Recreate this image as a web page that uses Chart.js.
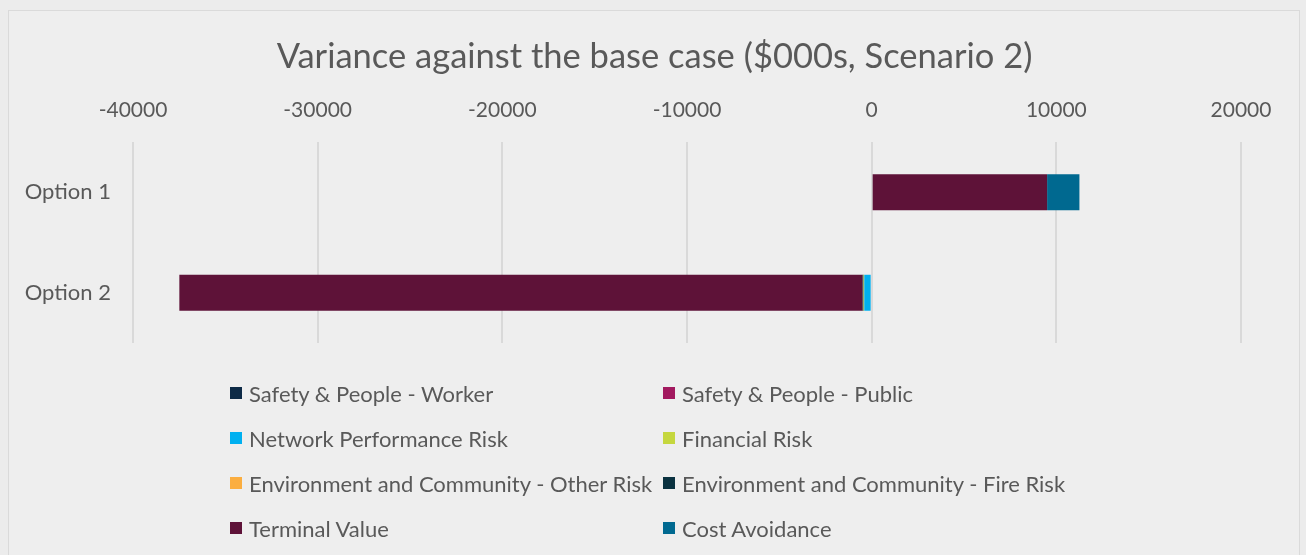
<!DOCTYPE html>
<html>
<head>
<meta charset="utf-8">
<script src="https://cdn.jsdelivr.net/npm/chart.js@4"></script>
<style>
  html, body { margin: 0; padding: 0; background: #ececec; width: 1306px; height: 555px; overflow: hidden; }
  #frame { position: absolute; left: 8px; top: 10px; width: 1290px; height: 560px; border: 1px solid #dadada; background: #eeeeee; }
  #wrap { position: absolute; left: 0; top: 0; width: 1306px; height: 555px; }
  #title { position: absolute; left: 0; top: 34px; width: 1309px; text-align: center; font-family: Lato, sans-serif; font-size: 34.5px; line-height: 42px; color: #595959; white-space: nowrap; }
  #legend { position: absolute; left: 230px; top: 377px; display: grid; grid-template-columns: 433px 433px; grid-auto-rows: 45px; font-family: Lato, sans-serif; font-size: 22px; color: #595959; }
  .item { display: flex; align-items: center; white-space: nowrap; height: 32px; }
  .box { width: 12px; height: 12px; margin-right: 7px; flex: none; }
</style>
</head>
<body>
<div id="frame"></div>
<div id="wrap"><canvas id="c" width="1306" height="555"></canvas></div>
<div id="title"></div>
<div id="legend"></div>
<script>
const chartTitle = 'Variance against the base case ($000s, Scenario 2)';
const categories = ["Option 1", "Option 2"];
const seriesNames = [
  "Safety & People - Worker",
  "Safety & People - Public",
  "Network Performance Risk",
  "Financial Risk",
  "Environment and Community - Other Risk",
  "Environment and Community - Fire Risk",
  "Terminal Value",
  "Cost Avoidance"
];
const seriesColors = ["#0d2a46", "#a2195f", "#00b0f0", "#c5d73e", "#fbae40", "#0a3240", "#5e1238", "#006990"];
const safetyWorker = [0, 0];
const safetyPublic = [0, 0];
const networkPerformance = [0, -400];
const financialRisk = [0, -40];
const envOther = [0, 0];
const envFire = [0, -50];
const terminalValue = [9500, -37000];
const costAvoidance = [1750, 0];
const seriesValues = [safetyWorker, safetyPublic, networkPerformance, financialRisk, envOther, envFire, terminalValue, costAvoidance];
const xMin = -40000, xMax = 20000, xStep = 10000;

document.getElementById('title').textContent = chartTitle;

const datasets = seriesNames.map((n, i) => ({
  label: n,
  data: seriesValues[i],
  backgroundColor: seriesColors[i],
  borderWidth: 0,
  barPercentage: 0.716,
  categoryPercentage: 0.5
}));

new Chart(document.getElementById('c'), {
  type: 'bar',
  data: { labels: categories, datasets },
  options: {
    indexAxis: 'y',
    responsive: false,
    animation: false,
    layout: { padding: { left: 20, right: 65, top: 87, bottom: 212 } },
    plugins: {
      legend: { display: false },
      tooltip: { enabled: false },
      title: { display: false }
    },
    scales: {
      x: {
        position: 'top',
        stacked: true,
        min: xMin, max: xMax,
        ticks: { stepSize: xStep, color: '#595959', font: { family: 'Lato', size: 21 }, padding: 19, maxRotation: 0,
                 callback: v => String(v) },
        grid: { color: '#d9d9d9', lineWidth: 2, drawTicks: false },
        border: { display: false },
        afterFit: s => { s.height = 55; }
      },
      y: {
        stacked: true,
        ticks: { color: '#595959', font: { family: 'Lato', size: 22 }, padding: 22 },
        grid: { display: false, drawTicks: false },
        border: { display: false },
        afterFit: s => { s.width = 113; }
      }
    }
  }
});

const lg = document.getElementById('legend');
seriesNames.forEach((n, i) => {
  const d = document.createElement('div');
  d.className = 'item';
  d.innerHTML = '<span class="box" style="background:' + seriesColors[i] + '"></span><span></span>';
  d.lastChild.textContent = n;
  lg.appendChild(d);
});
</script>
</body>
</html>
